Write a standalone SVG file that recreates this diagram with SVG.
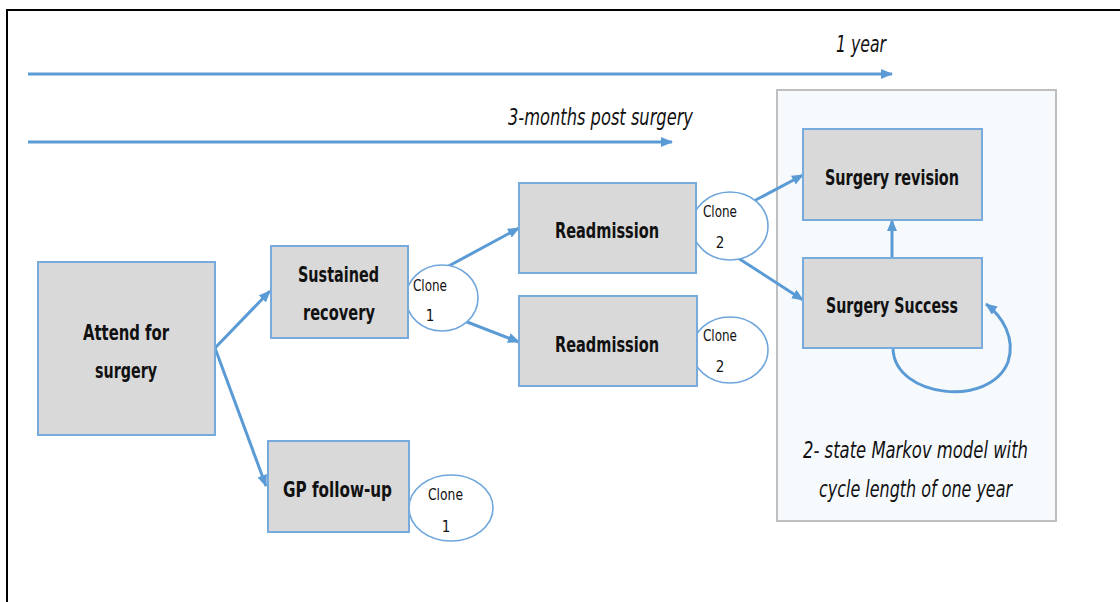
<svg xmlns="http://www.w3.org/2000/svg" width="1120" height="602" viewBox="0 0 1120 602">
<defs>
<marker id="ah" viewBox="0 0 12 10" refX="11" refY="5" markerWidth="12" markerHeight="10" markerUnits="userSpaceOnUse" orient="auto">
<path d="M0,0 L12,5 L0,10 Z" fill="#5b9bd5"/>
</marker>
<style>
.ln{stroke:#5b9bd5;stroke-width:3;fill:none;marker-end:url(#ah)}
.box{fill:#d9d9d9;stroke:#78abdd;stroke-width:2}
.cl{fill:#ffffff;stroke:#6fa6dc;stroke-width:1.6}
.lb{font-family:"Liberation Sans Narrow","DejaVu Sans Condensed","Liberation Sans",sans-serif;font-weight:bold;font-size:21px;fill:#111}
.cs{font-family:"Liberation Sans Narrow","DejaVu Sans Condensed","Liberation Sans",sans-serif;font-size:15px;fill:#111}
.it{font-family:"Liberation Sans Narrow","DejaVu Sans Condensed","Liberation Sans",sans-serif;font-style:italic;font-size:23px;fill:#111}
</style>
</defs>
<rect width="1120" height="602" fill="#ffffff"/>
<g id="frame">
<path d="M7,602 L7,10 L1120,10" fill="none" stroke="#000" stroke-width="2"/>
</g>
<g id="timeline">
<line class="ln" x1="28" y1="74" x2="892" y2="74"/>
<line class="ln" x1="28" y1="142" x2="672" y2="142"/>
<text class="it" x="836" y="52" textLength="50" lengthAdjust="spacingAndGlyphs">1 year</text>
<text class="it" x="508" y="125" textLength="185" lengthAdjust="spacingAndGlyphs">3-months post surgery</text>
</g>
<g id="markov">
<rect x="777" y="90" width="279" height="431" fill="#f6fafd" stroke="#bfbfbf" stroke-width="2"/>
<text class="it" x="803" y="458" textLength="225" lengthAdjust="spacingAndGlyphs">2- state Markov model with</text>
<text class="it" x="819" y="497" textLength="193" lengthAdjust="spacingAndGlyphs">cycle length of one year</text>
</g>
<g id="connectors">
<line class="ln" x1="215" y1="348" x2="270" y2="291"/>
<line class="ln" x1="215" y1="348" x2="266" y2="486"/>
<line class="ln" x1="445" y1="268" x2="519" y2="228"/>
<line class="ln" x1="462" y1="320" x2="519" y2="342"/>
<line class="ln" x1="752" y1="202" x2="803" y2="175"/>
<line class="ln" x1="738" y1="258" x2="803" y2="300"/>
<line class="ln" x1="892" y1="258" x2="892" y2="220"/>
<path class="ln" d="M893,349 C895,398 990,408 1008,362 C1016,338 1002,316 986,304"/>
</g>
<g id="attend">
<rect class="box" x="38" y="262" width="177" height="173"/>
<text class="lb" x="83" y="340" textLength="86" lengthAdjust="spacingAndGlyphs">Attend for</text>
<text class="lb" x="95" y="378" textLength="62" lengthAdjust="spacingAndGlyphs">surgery</text>
</g>
<g id="sustained">
<ellipse class="cl" cx="442" cy="298" rx="36" ry="33"/>
<rect class="box" x="271" y="246" width="137" height="92"/>
<text class="lb" x="298" y="282" textLength="81" lengthAdjust="spacingAndGlyphs">Sustained</text>
<text class="lb" x="303" y="320" textLength="72" lengthAdjust="spacingAndGlyphs">recovery</text>
<text class="cs" x="413" y="291" textLength="34" lengthAdjust="spacingAndGlyphs">Clone</text>
<text class="cs" x="430" y="321" text-anchor="middle">1</text>
</g>
<g id="gp">
<ellipse class="cl" cx="451" cy="508" rx="42" ry="33"/>
<rect class="box" x="268" y="441" width="141" height="91"/>
<text class="lb" x="283" y="497" textLength="109" lengthAdjust="spacingAndGlyphs">GP follow-up</text>
<text class="cs" x="428" y="500" textLength="35" lengthAdjust="spacingAndGlyphs">Clone</text>
<text class="cs" x="446" y="532" text-anchor="middle">1</text>
</g>
<g id="readmission1">
<ellipse class="cl" cx="730" cy="226" rx="38" ry="34"/>
<rect class="box" x="519" y="183" width="177" height="90"/>
<text class="lb" x="555" y="238" textLength="104" lengthAdjust="spacingAndGlyphs">Readmission</text>
<text class="cs" x="703" y="217" textLength="34" lengthAdjust="spacingAndGlyphs">Clone</text>
<text class="cs" x="720" y="248" text-anchor="middle">2</text>
</g>
<g id="readmission2">
<ellipse class="cl" cx="730" cy="350" rx="38" ry="33"/>
<rect class="box" x="519" y="296" width="178" height="90"/>
<text class="lb" x="555" y="352" textLength="104" lengthAdjust="spacingAndGlyphs">Readmission</text>
<text class="cs" x="703" y="341" textLength="34" lengthAdjust="spacingAndGlyphs">Clone</text>
<text class="cs" x="720" y="372" text-anchor="middle">2</text>
</g>
<g id="revision">
<rect class="box" x="803" y="129" width="179" height="91"/>
<text class="lb" x="825" y="185" textLength="134" lengthAdjust="spacingAndGlyphs">Surgery revision</text>
</g>
<g id="success">
<rect class="box" x="803" y="258" width="179" height="90"/>
<text class="lb" x="826" y="313" textLength="132" lengthAdjust="spacingAndGlyphs">Surgery Success</text>
</g>
</svg>
